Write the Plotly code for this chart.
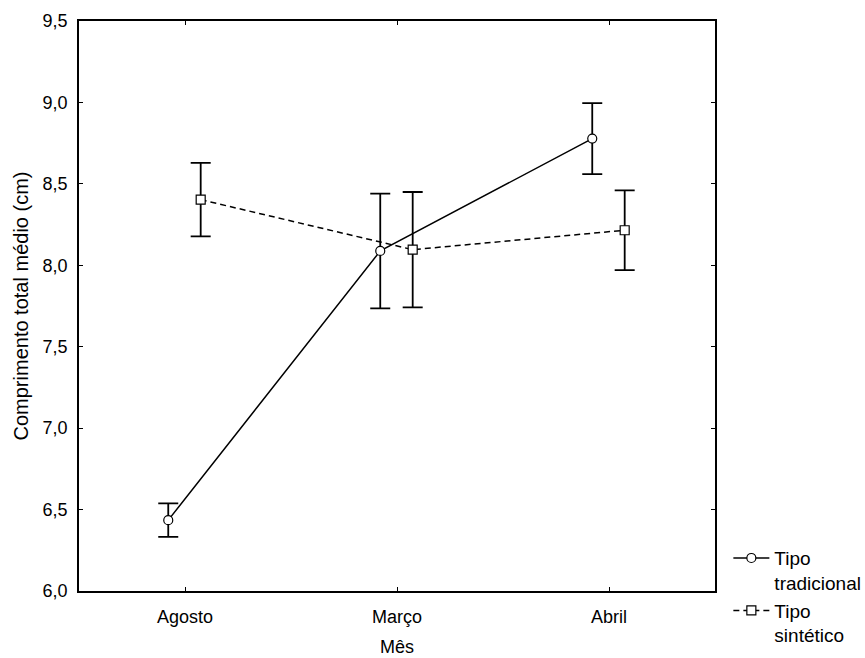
import plotly.graph_objects as go

months = ["Agosto", "Março", "Abril"]
trad_mean = [6.435, 8.088, 8.778]
trad_err = [0.103, 0.352, 0.218]
synt_mean = [8.403, 8.096, 8.215]
synt_err = [0.226, 0.354, 0.245]
y_ticks = [6.0, 6.5, 7.0, 7.5, 8.0, 8.5, 9.0, 9.5]

idx = list(range(len(months)))
off_t = -0.079
off_s = 0.074

FONT = "Liberation Sans, Arial, sans-serif"

fig = go.Figure()
fig.add_trace(go.Scatter(
    x=[i + off_t for i in idx], y=trad_mean,
    mode="lines+markers",
    name="Tipo<br>tradicional",
    line=dict(color="black", width=1.5),
    marker=dict(symbol="circle", size=9, color="white", line=dict(width=1.2, color="black")),
    error_y=dict(type="data", array=trad_err, visible=True, color="black", thickness=1.8, width=10),
))
fig.add_trace(go.Scatter(
    x=[i + off_s for i in idx], y=synt_mean,
    mode="lines+markers",
    name="Tipo<br>sintético",
    line=dict(color="black", width=1.5, dash="6px,4px"),
    marker=dict(symbol="square", size=9, color="white", line=dict(width=1.2, color="black")),
    error_y=dict(type="data", array=synt_err, visible=True, color="black", thickness=1.8, width=10),
))

fig.update_layout(
    width=865, height=658,
    margin=dict(l=79, r=150, t=21, b=67, autoexpand=False),
    paper_bgcolor="white", plot_bgcolor="white",
    separators=",.",
    font=dict(family=FONT, size=18, color="black"),
    showlegend=True,
    legend=dict(x=1.021, xanchor="left", y=0.091, yanchor="top",
                font=dict(size=19), valign="top", tracegroupgap=0,
                itemwidth=36,
                bgcolor="rgba(0,0,0,0)"),
)
fig.update_xaxes(
    range=[-0.5, 2.5], tickvals=idx, ticktext=months,
    showline=True, linecolor="black", linewidth=1.5, mirror="allticks",
    ticks="inside", ticklen=4, tickcolor="black", tickwidth=1,
    showgrid=False, zeroline=False, automargin=True,
    title=dict(text="Mês", standoff=14, font=dict(size=18)),
    ticklabelstandoff=9,
)
fig.update_yaxes(
    range=[6.0, 9.5], tickvals=y_ticks, tickformat=".1f",
    showline=True, linecolor="black", linewidth=1.5, mirror="allticks",
    ticks="inside", ticklen=4, tickcolor="black", tickwidth=1,
    showgrid=False, zeroline=False, automargin=False,
    title=dict(text="Comprimento total médio (cm)", standoff=9, font=dict(size=20)),
    ticklabelstandoff=6,
)

fig.write_html("out.html")
